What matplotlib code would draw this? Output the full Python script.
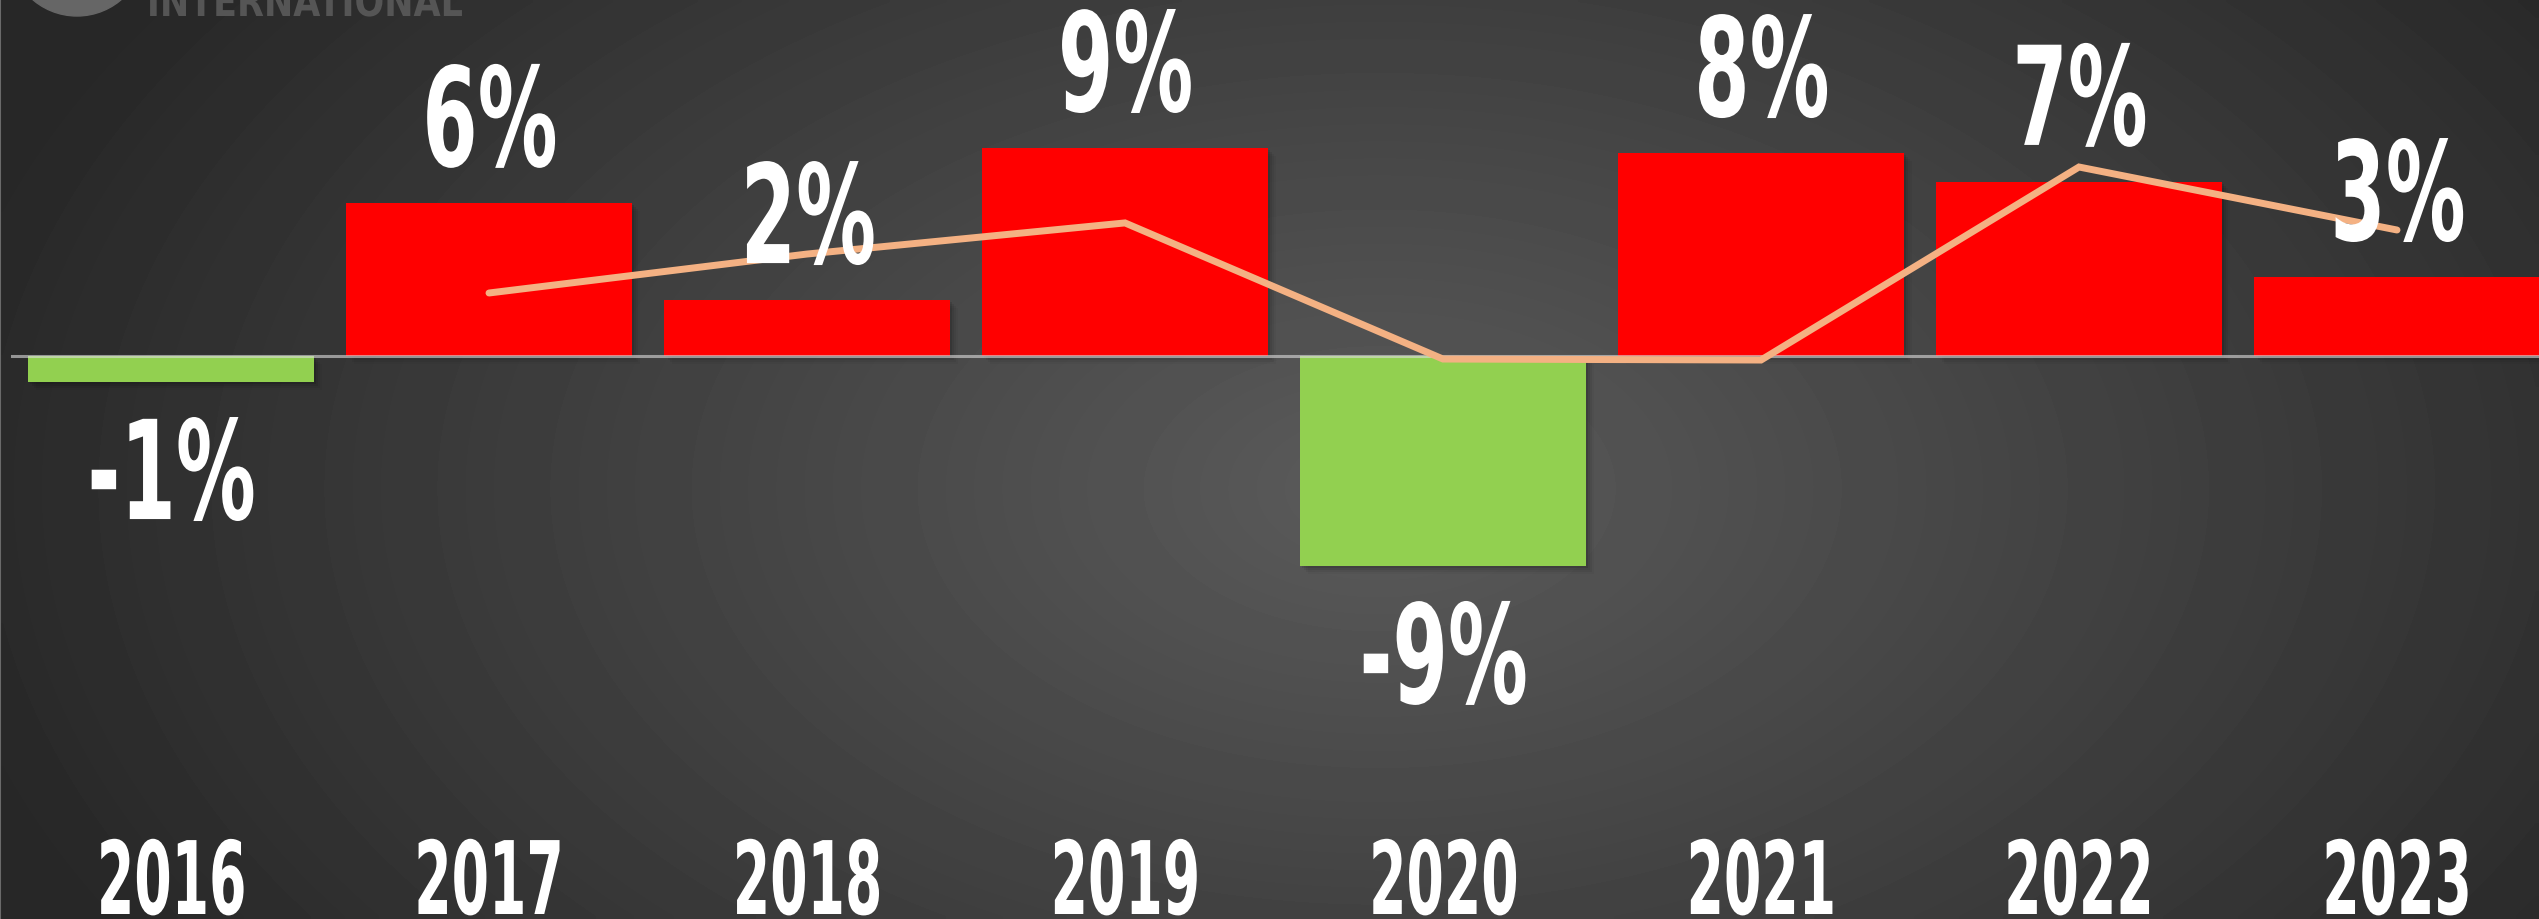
import matplotlib
matplotlib.use("Agg")
import matplotlib.pyplot as plt
import numpy as np
from matplotlib.patches import Circle
from matplotlib.patheffects import AbstractPathEffect
from matplotlib.transforms import Affine2D, ScaledTranslation, blended_transform_factory

# ---- Data
years = ["2016", "2017", "2018", "2019", "2020", "2021", "2022", "2023"]
growth = [-1.03, 6.05, 2.21, 8.22, -8.30, 8.02, 6.88, 3.12]
growth_labels = ["-1%", "6%", "2%", "9%", "-9%", "8%", "7%", "3%"]
trend = [np.nan, 2.49, 4.03, 5.26, -0.12, -0.16, 7.47, 4.98]

RED = "#ff0000"
GREEN = "#92d050"
LINE = "#f4b183"
FONT = ["DejaVu Sans"]

W, H, DPI = 2539, 920, 100


class Squeeze(AbstractPathEffect):
    """Draw text narrower (condensed look) around its own centre."""

    def __init__(self, sx):
        super().__init__()
        self.sx = sx

    def draw_path(self, renderer, gc, tpath, affine, rgbFace=None):
        ext = tpath.get_extents()
        cx = 0.5 * (ext.x0 + ext.x1)
        t = Affine2D().translate(-cx, 0).scale(self.sx, 1).translate(cx, 0) + affine
        renderer.draw_path(gc, tpath, t, rgbFace)


def main():
    fig = plt.figure(figsize=(W / DPI, H / DPI), dpi=DPI)
    ax = fig.add_axes([0, 0, 1, 1])

    # ---- background: dark radial gradient
    gx, gy = np.meshgrid(np.linspace(0, W, 400), np.linspace(0, H, 150))
    d = np.sqrt(((gx - 1380) / 1450) ** 2 + ((gy - 430) / 880) ** 2)
    shade = np.clip(0x5b - d * 0x33, 0x27, 0x5b) / 255.0
    ax.imshow(shade, extent=[0, 1, 1, 0], transform=ax.transAxes,
              cmap="gray", vmin=0, vmax=1, aspect="auto", zorder=0,
              interpolation="bilinear")

    x = np.arange(len(years))
    colors = [RED if v >= 0 else GREEN for v in growth]

    # ---- soft drop shadow under the bars
    for k, a in [(2, 0.10), (4, 0.07), (6, 0.05), (8, 0.03)]:
        sh = ax.bar(x, growth, width=0.9, color="black", alpha=a, zorder=1,
                    linewidth=0)
        off = ScaledTranslation(k / DPI, -k / DPI, fig.dpi_scale_trans)
        for p in sh:
            p.set_transform(ax.transData + off)

    ax.bar(x, growth, width=0.9, color=colors, linewidth=0, zorder=2)

    # zero line
    ax.axhline(0, xmin=12 / W, xmax=1, color="#dddddd", alpha=0.6, lw=2.2,
               zorder=3)

    ax.plot(x, trend, color=LINE, lw=5, solid_capstyle="round",
            solid_joinstyle="miter", zorder=4)

    # ---- value labels
    for xi, v, lab in zip(x, growth, growth_labels):
        dy = 37 if v >= 0 else -137
        ax.annotate(lab, (xi, v), xytext=(0, dy), textcoords="offset pixels",
                    ha="center", va="baseline", color="white",
                    fontsize=99, fontweight="bold", family=FONT, zorder=5,
                    path_effects=[Squeeze(0.58)])

    # ---- year labels along the bottom
    tr = blended_transform_factory(ax.transData, ax.transAxes)
    for xi, yr in zip(x, years):
        ax.text(xi, 5 / H, yr, transform=tr, ha="center", va="baseline",
                color="white", fontsize=73, fontweight="bold", family=FONT,
                zorder=5, path_effects=[Squeeze(0.53)])

    # ---- partial logo cut off at the top
    fig.add_artist(Circle((0.77, (H + 51) / DPI), 0.68,
                          transform=fig.dpi_scale_trans,
                          color="#666666", zorder=6))
    fig.text(305 / W, 1 - 17 / H, "INTERNATIONAL", color="#555555",
             fontsize=30, fontweight="bold", family=FONT, ha="center",
             va="baseline", path_effects=[Squeeze(0.84)])

    ax.set_xlim(-171 / 318, (W - 171) / 318)
    ax.set_ylim((357 - H) / 25.3, 357 / 25.3)
    ax.set_xticks([])
    ax.set_yticks([])
    for s in ["top", "right", "bottom"]:
        ax.spines[s].set_visible(False)
    ax.spines["left"].set_color("#6a6a6a")
    ax.spines["left"].set_linewidth(1.5)

    fig.savefig("out.png", dpi=DPI)
    plt.close(fig)


if __name__ == "__main__":
    main()
